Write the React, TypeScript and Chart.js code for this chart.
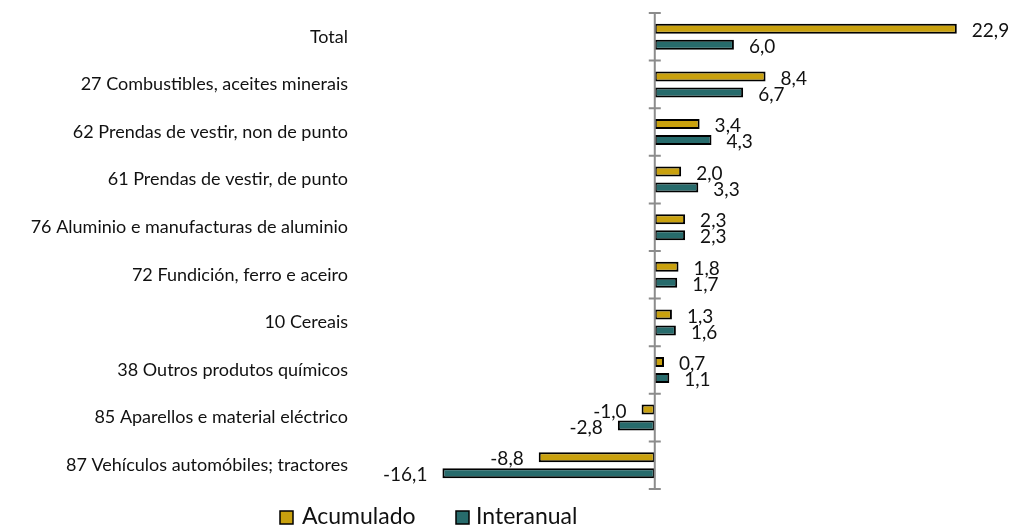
import React, { useEffect, useRef } from "react";
import { Chart, registerables } from "chart.js";

Chart.register(...registerables);

const categories = [
  "Total",
  "27 Combustibles, aceites minerais",
  "62 Prendas de vestir, non de punto",
  "61 Prendas de vestir, de punto",
  "76 Aluminio e manufacturas de aluminio",
  "72 Fundición, ferro e aceiro",
  "10 Cereais",
  "38 Outros produtos químicos",
  "85 Aparellos e material eléctrico",
  "87 Vehículos automóbiles; tractores",
];
const acumulado = [22.9, 8.4, 3.4, 2.0, 2.3, 1.8, 1.3, 0.7, -1.0, -8.8];
const interanual = [6.0, 6.7, 4.3, 3.3, 2.3, 1.7, 1.6, 1.1, -2.8, -16.1];
const seriesNames = ["Acumulado", "Interanual"];
const seriesColors = ["#C9A10E", "#276B6C"];

const FONT = "Lato, 'Open Sans', sans-serif";

const fmt = (v: number) => v.toFixed(1).replace(".", ",");

const axisPlugin = {
  id: "zeroAxis",
  afterDatasetsDraw(chart: any) {
    const { ctx, chartArea } = chart;
    const x0 = chart.scales.x.getPixelForValue(0);
    ctx.save();
    ctx.strokeStyle = "#8c8c8c";
    ctx.lineWidth = 2;
    ctx.beginPath();
    ctx.moveTo(x0, chartArea.top);
    ctx.lineTo(x0, chartArea.bottom);
    const n = categories.length;
    const h = (chartArea.bottom - chartArea.top) / n;
    for (let i = 0; i <= n; i++) {
      const y = chartArea.top + i * h;
      ctx.moveTo(x0 - 6, y);
      ctx.lineTo(x0 + 6, y);
    }
    ctx.stroke();
    ctx.restore();
  },
};

const labelPlugin = {
  id: "valueLabels",
  afterDatasetsDraw(chart: any) {
    const { ctx } = chart;
    ctx.save();
    ctx.font = `19px ${FONT}`;
    ctx.fillStyle = "#111";
    ctx.textBaseline = "middle";
    chart.data.datasets.forEach((ds: any, di: number) => {
      const meta = chart.getDatasetMeta(di);
      meta.data.forEach((el: any, i: number) => {
        const v = ds.data[i];
        const x = chart.scales.x.getPixelForValue(v);
        if (v >= 0) {
          ctx.textAlign = "left";
          ctx.fillText(fmt(v), x + 15, el.y + 2);
        } else {
          ctx.textAlign = "right";
          ctx.fillText(fmt(v), x - 15, el.y + 2);
        }
      });
    });
    ctx.restore();
  },
};

const legendPlugin = {
  id: "customLegend",
  afterDraw(chart: any) {
    const { ctx } = chart;
    const items = [
      { box: 280, text: 302 },
      { box: 456, text: 476 },
    ];
    ctx.save();
    ctx.font = `23px ${FONT}`;
    ctx.textBaseline = "middle";
    ctx.textAlign = "left";
    items.forEach((it, i) => {
      ctx.fillStyle = seriesColors[i];
      ctx.fillRect(it.box, 511, 13, 13);
      ctx.strokeStyle = "#000";
      ctx.lineWidth = 1.5;
      ctx.strokeRect(it.box, 511, 13, 13);
      ctx.fillStyle = "#111";
      ctx.fillText(seriesNames[i], it.text, 517);
    });
    ctx.restore();
  },
};

export default function App() {
  const ref = useRef<HTMLCanvasElement | null>(null);
  useEffect(() => {
    if (!ref.current) return;
    const chart = new Chart(ref.current, {
      type: "bar",
      data: {
        labels: categories,
        datasets: [
          {
            label: seriesNames[0],
            data: acumulado,
            backgroundColor: seriesColors[0],
            borderColor: "#000",
            borderWidth: 2,
            borderSkipped: false,
            categoryPercentage: 0.672,
            barPercentage: 0.625,
          },
          {
            label: seriesNames[1],
            data: interanual,
            backgroundColor: seriesColors[1],
            borderColor: "#000",
            borderWidth: 2,
            borderSkipped: false,
            categoryPercentage: 0.672,
            barPercentage: 0.625,
          },
        ],
      },
      options: {
        indexAxis: "y",
        animation: false,
        responsive: true,
        maintainAspectRatio: false,
        layout: { padding: { left: 0, right: 25.5, top: 13, bottom: 38 } },
        plugins: {
          legend: { display: false },
          tooltip: { enabled: false },
        },
        scales: {
          x: {
            display: false,
            min: -20,
            max: 25,
          },
          y: {
            grid: { display: false, drawTicks: false },
            border: { display: false },
            afterFit: (s: any) => {
              s.width = 391;
              s.paddingTop = 0;
              s.paddingBottom = 0;
            },
            ticks: {
              padding: 43,
              color: "#111",
              font: { family: FONT, size: 18 },
            },
          },
        },
      },
      plugins: [axisPlugin, labelPlugin, legendPlugin],
    });
    return () => chart.destroy();
  }, []);
  return (
    <div style={{ position: "fixed", left: 0, top: 0, width: 1010, height: 527, background: "#fff" }}>
      <canvas ref={ref} />
    </div>
  );
}
